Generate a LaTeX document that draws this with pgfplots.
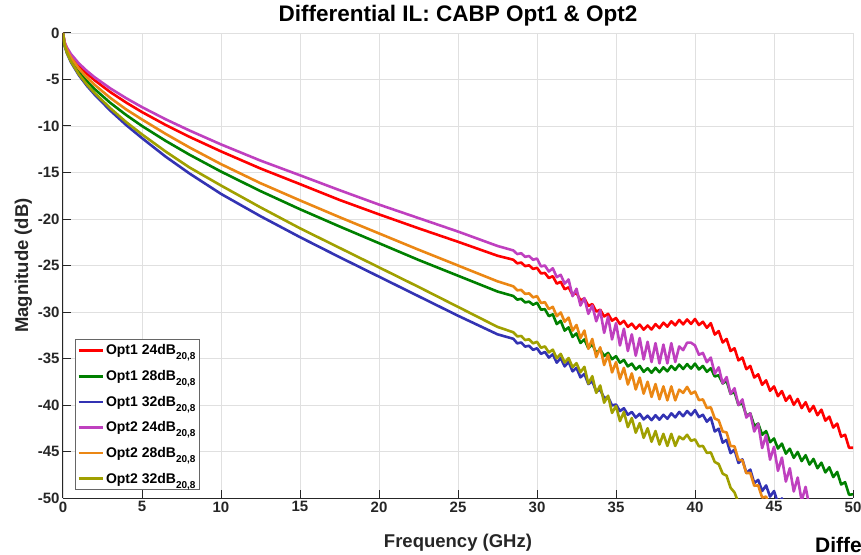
\documentclass[border=0pt]{standalone}
\usepackage{fontspec}
\setmainfont{Liberation Sans}
\usepackage{pgfplots}
\pgfplotsset{compat=1.18}
\definecolor{cRed}{RGB}{255,0,0}
\definecolor{cGreen}{RGB}{0,128,0}
\definecolor{cBlue}{RGB}{51,51,179}
\definecolor{cPurple}{RGB}{191,64,191}
\definecolor{cOrange}{RGB}{235,135,20}
\definecolor{cOlive}{RGB}{160,160,0}
\definecolor{axgray}{RGB}{38,38,38}
\newcommand{\sub}{\raisebox{-5pt}{\fontsize{10}{10}\selectfont 20,8}}
\begin{document}
\begin{tikzpicture}
\begin{axis}[
  at={(0,0)}, anchor=south west,
  scale only axis, width=790pt, height=465pt,
  xmin=0, xmax=50, ymin=-50, ymax=0,
  xtick={0,5,...,50}, ytick={-50,-45,...,0},
  xticklabels={0,5,10,15,20,25,30,35,40,45,50},
  yticklabels={-50,-45,-40,-35,-30,-25,-20,-15,-10,-5,0},
  axis lines*=left,
  axis line style={color=axgray, line width=1pt},
  tick style={color=axgray, line width=1pt},
  tick align=inside, major tick length=8pt,
  tick label style={font=\fontsize{15}{15}\selectfont\bfseries, text=axgray},
  grid=major, grid style={color=black!12, line width=0.8pt},
  title={Differential IL: CABP Opt1 \& Opt2},
  title style={font=\fontsize{22.5}{22.5}\selectfont\bfseries, at={(axis description cs:0.5,1.0237)}, anchor=base, yshift=-6pt},
  xlabel={Frequency (GHz)},
  xlabel style={font=\fontsize{18.5}{18.5}\selectfont\bfseries, text=axgray, at={(axis description cs:0.5,-0.1075)}, anchor=base},
  ylabel={Magnitude (dB)},
  ylabel style={font=\fontsize{18.5}{18.5}\selectfont\bfseries, text=axgray, at={(axis description cs:-0.0443,0.5)}, anchor=base},
  legend style={at={(0.0152,0.0172)}, anchor=south west, draw=black!60, line width=0.8pt, fill=white,
    font=\fontsize{14}{14}\selectfont\bfseries, row sep=10pt, inner xsep=2pt, inner ysep=3pt,
    cells={anchor=west}},
  legend image code/.code={\draw[#1, line width=2.6pt] (0pt,0pt) -- (24pt,0pt);},
  every axis plot/.append style={line width=2.6pt, line join=round},
]
% Opt1 24dB (red)
\addplot[cRed] coordinates {(0,0)(0.1,-1.05)(0.25,-1.69)(0.5,-2.42)(1,-3.49)(1.5,-4.35)(2,-5.08)(3,-6.36)(4,-7.48)(5,-8.5)(6.5,-9.89)(8,-11.16)(10,-12.73)(12.5,-14.57)(15,-16.25)(17.5,-17.95)(20,-19.5)(22.5,-21.0)(25,-22.45)(27.5,-23.95)
(28.5,-24.38)(28.75,-24.77)(29,-24.68)(29.25,-25.07)(29.5,-24.98)(29.75,-25.37)
(30,-25.25)(30.25,-25.85)(30.5,-25.8)(30.75,-26.35)(31,-26.15)(31.25,-26.95)(31.5,-26.75)(31.75,-27.55)(32,-27.35)(32.25,-28.15)(32.5,-27.95)(32.75,-28.75)(33,-28.55)(33.25,-29.35)(33.5,-29.15)(33.75,-29.95)
(34,-29.75)(34.25,-30.48)(34.5,-30.2)(34.75,-30.93)(35,-30.65)(35.25,-31.3)(35.5,-30.95)(35.75,-31.6)(36,-31.25)(36.25,-31.8)(36.5,-31.35)(36.75,-31.9)(37,-31.45)(37.25,-31.88)(37.5,-31.3)(37.75,-31.73)
(38,-31.15)(38.25,-31.58)(38.5,-31.0)(38.75,-31.43)(39,-30.85)(39.25,-31.33)(39.5,-30.8)(39.75,-31.28)(40,-30.75)(40.25,-31.4)(40.5,-31.05)(40.75,-31.7)
(41,-31.2)(41.25,-32.43)(41.5,-32.05)(41.75,-33.28)(42,-32.9)(42.25,-34.2)(42.5,-33.9)(42.75,-35.2)(43,-34.9)(43.25,-36.15)(43.5,-35.8)(43.75,-37.05)(44,-36.7)(44.25,-37.83)(44.5,-37.35)(44.75,-38.48)
(45,-38.0)(45.25,-39.05)(45.5,-38.5)(45.75,-39.55)(46,-39.0)(46.25,-39.98)(46.5,-39.35)(46.75,-40.33)(47,-39.7)(47.25,-40.7)(47.5,-40.1)(47.75,-41.1)(48,-40.5)(48.25,-41.68)(48.5,-41.25)(48.75,-42.43)
(49,-42.0)(49.25,-43.4)(49.5,-43.2)(49.75,-44.6)(50,-44.6)};
\addlegendentry{Opt1 24dB\sub}
% Opt1 28dB (green)
\addplot[cGreen] coordinates {(0,0)(0.1,-1.26)(0.25,-2.01)(0.5,-2.89)(1,-4.16)(1.5,-5.16)(2,-6.03)(3,-7.52)(4,-8.82)(5,-10.0)(6.5,-11.6)(8,-13.08)(10,-14.9)(12.5,-17.0)(15,-18.95)(17.5,-20.8)(20,-22.6)(22.5,-24.4)(25,-26.1)(27.5,-27.8)
(28.5,-28.28)(28.75,-28.67)(29,-28.58)(29.25,-28.97)(29.5,-28.88)(29.75,-29.22)
(30,-29.0)(30.25,-29.75)(30.5,-29.7)(30.75,-30.45)(31,-30.25)(31.25,-31.3)(31.5,-30.95)(31.75,-32.0)(32,-31.65)(32.25,-32.68)(32.5,-32.3)(32.75,-33.33)(33,-32.95)(33.25,-33.9)(33.5,-33.45)(33.75,-34.4)
(34,-34.05)(34.25,-34.73)(34.5,-34.4)(34.75,-35.08)(35,-34.75)(35.25,-35.45)(35.5,-35.15)(35.75,-35.85)(36,-35.55)(36.25,-36.18)(36.5,-35.8)(36.75,-36.43)(37,-36.05)(37.25,-36.53)(37.5,-36.0)(37.75,-36.48)
(38,-35.95)(38.25,-36.38)(38.5,-35.8)(38.75,-36.23)(39,-35.65)(39.25,-36.13)(39.5,-35.6)(39.75,-36.08)(40,-35.55)(40.25,-36.18)(40.5,-35.8)(40.75,-36.43)(41,-36.05)(41.25,-36.93)(41.5,-36.8)(41.75,-37.68)
(42,-37.4)(42.25,-38.8)(42.5,-38.6)(42.75,-40.0)(43,-39.8)(43.25,-41.15)(43.5,-40.9)(43.75,-42.25)(44,-42.0)(44.25,-43.2)(44.5,-42.8)(44.75,-44.0)(45,-43.6)(45.25,-44.68)(45.5,-44.15)(45.75,-45.23)
(46,-44.7)(46.25,-45.68)(46.5,-45.05)(46.75,-46.03)(47,-45.4)(47.25,-46.4)(47.5,-45.8)(47.75,-46.8)(48,-46.2)(48.25,-47.25)(48.5,-46.7)(48.75,-47.75)(49,-47.2)(49.25,-48.55)(49.5,-48.3)(49.75,-49.65)(50,-49.6)};
\addlegendentry{Opt1 28dB\sub}
% Opt1 32dB (blue)
\addplot[cBlue] coordinates {(0,0)(0.1,-1.36)(0.25,-2.18)(0.5,-3.13)(1,-4.53)(1.5,-5.65)(2,-6.62)(3,-8.35)(4,-9.9)(5,-11.3)(6.5,-13.3)(8,-15.1)(10,-17.3)(12.5,-19.7)(15,-21.95)(17.5,-24.1)(20,-26.2)(22.5,-28.3)(25,-30.4)(27.5,-32.4)
(28.5,-32.88)(28.75,-33.37)(29,-33.28)(29.25,-33.72)(29.5,-33.63)(29.75,-34.07)
(30,-33.9)(30.25,-34.5)(30.5,-34.3)(30.75,-34.9)(31,-34.55)(31.25,-35.45)(31.5,-34.95)(31.75,-35.85)(32,-35.35)(32.25,-36.38)(32.5,-36.0)(32.75,-37.03)(33,-36.65)(33.25,-37.75)(33.5,-37.45)(33.75,-38.55)
(34,-38.35)(34.25,-39.25)(34.5,-39.15)(34.75,-40.05)(35,-39.95)(35.25,-40.65)(35.5,-40.35)(35.75,-41.05)(36,-40.75)(36.25,-41.35)(36.5,-40.95)(36.75,-41.55)(37,-41.15)(37.25,-41.63)(37.5,-41.1)(37.75,-41.58)
(38,-41.05)(38.25,-41.48)(38.5,-40.9)(38.75,-41.33)(39,-40.75)(39.25,-41.2)(39.5,-40.65)(39.75,-41.1)(40,-40.55)(40.25,-41.3)(40.5,-41.05)(40.75,-41.8)
(41,-41.35)(41.25,-42.85)(41.5,-42.55)(41.75,-44.05)(42,-43.75)(42.25,-45.18)(42.5,-44.8)(42.75,-46.23)(43,-45.85)(43.25,-47.3)(43.5,-46.95)(43.75,-48.4)(44,-48.05)(44.25,-49.25)(44.5,-48.65)(44.75,-49.85)
(45,-49.25)(45.25,-50.55)(45.5,-50.05)(45.75,-51)};
\addlegendentry{Opt1 32dB\sub}
% Opt2 24dB (purple)
\addplot[cPurple] coordinates {(0,0)(0.1,-0.98)(0.25,-1.57)(0.5,-2.26)(1,-3.26)(1.5,-4.06)(2,-4.76)(3,-5.96)(4,-7.01)(5,-7.97)(6.5,-9.28)(8,-10.48)(10,-11.98)(12.5,-13.72)(15,-15.3)(17.5,-16.9)(20,-18.45)(22.5,-19.9)(25,-21.35)(27.5,-22.9)
(28.5,-23.38)(28.75,-23.77)(29,-23.68)(29.25,-24.07)(29.5,-23.98)(29.75,-24.39)
(30,-24.25)(30.25,-25.1)(30.5,-25.0)(30.75,-25.65)(31,-25.3)(31.25,-26.25)(31.5,-26.0)(31.75,-26.95)(32,-26.5)(32.25,-28.3)(32.5,-27.5)(32.75,-29.3)(33,-28.5)(33.25,-30.2)(33.5,-29.3)(33.75,-31.0)
(34,-29.8)(34.25,-32.25)(34.5,-30.5)(34.75,-32.95)(35,-31.2)(35.25,-33.6)(35.5,-31.8)(35.75,-34.2)(36,-32.4)(36.25,-34.7)(36.5,-32.8)(36.75,-35.1)(37,-33.2)(37.25,-35.38)(37.5,-33.35)(37.75,-35.53)
(38,-33.5)(38.25,-35.53)(38.5,-33.35)(38.75,-35.38)(39,-33.7)(39.25,-34.1)(39.5,-33.3)(39.75,-33.3)(40,-33.6)(40.25,-34.6)(40.5,-34.4)(40.75,-35.4)
(41,-34.9)(41.25,-36.63)(41.5,-35.95)(41.75,-37.68)(42,-37.0)(42.25,-38.8)(42.5,-38.2)(42.75,-40.0)(43,-39.4)(43.25,-41.35)(43.5,-40.9)(43.75,-42.85)
(44,-42.0)(44.25,-44.63)(44.5,-43.25)(44.75,-45.88)(45,-44.5)(45.25,-47.08)(45.5,-45.65)(45.75,-48.23)(46,-46.8)(46.25,-49.3)(46.5,-47.8)(46.75,-50.3)(47,-48.8)(47.25,-51)};
\addlegendentry{Opt2 24dB\sub}
% Opt2 28dB (orange)
\addplot[cOrange] coordinates {(0,0)(0.1,-1.15)(0.25,-1.84)(0.5,-2.64)(1,-3.82)(1.5,-4.76)(2,-5.57)(3,-6.99)(4,-8.22)(5,-9.3)(6.5,-10.85)(8,-12.3)(10,-14.1)(12.5,-16.15)(15,-18.0)(17.5,-19.8)(20,-21.55)(22.5,-23.3)(25,-25.0)(27.5,-26.7)
(28.5,-27.24)(28.75,-27.67)(29,-27.62)(29.25,-28.05)(29.5,-28.0)(29.75,-28.43)
(30,-28.3)(30.25,-29.03)(30.5,-28.95)(30.75,-29.68)(31,-29.45)(31.25,-30.45)(31.5,-30.05)(31.75,-31.05)(32,-30.6)(32.25,-32.0)(32.5,-31.4)(32.75,-32.8)
(33,-32.0)(33.25,-33.95)(33.5,-32.9)(33.75,-34.85)(34,-33.8)(34.25,-35.7)(34.5,-34.6)(34.75,-36.5)(35,-35.4)(35.25,-37.2)(35.5,-36.0)(35.75,-37.8)(36,-36.6)(36.25,-38.33)(36.5,-37.05)(36.75,-38.78)
(37,-37.5)(37.25,-39.13)(37.5,-37.75)(37.75,-39.38)(38,-38.0)(38.25,-39.5)(38.5,-38.0)(38.75,-39.5)(39,-38.35)(39.25,-38.7)(39.5,-38.05)(39.75,-38.8)(40,-38.55)(40.25,-39.48)(40.5,-39.4)(40.75,-40.33)
(41,-40.25)(41.25,-41.45)(41.5,-41.65)(41.75,-42.85)(42,-42.95)(42.25,-44.4)(42.5,-44.45)(42.75,-45.9)(43,-45.95)(43.25,-47.33)(43.5,-47.3)(43.75,-48.68)(44,-48.65)(44.25,-49.95)(44.5,-49.85)(44.75,-51)};
\addlegendentry{Opt2 28dB\sub}
% Opt2 32dB (olive)
\addplot[cOlive] coordinates {(0,0)(0.1,-1.33)(0.25,-2.13)(0.5,-3.06)(1,-4.43)(1.5,-5.52)(2,-6.45)(3,-8.1)(4,-9.58)(5,-10.9)(6.5,-12.75)(8,-14.45)(10,-16.4)(12.5,-18.75)(15,-21.0)(17.5,-23.1)(20,-25.2)(22.5,-27.3)(25,-29.45)(27.5,-31.6)
(28.5,-32.18)(28.75,-32.62)(29,-32.58)(29.25,-33.02)(29.5,-32.93)(29.75,-33.37)
(30,-33.2)(30.25,-33.85)(30.5,-33.7)(30.75,-34.35)(31,-34.05)(31.25,-34.98)(31.5,-34.5)(31.75,-35.43)(32,-34.95)(32.25,-35.93)(32.5,-35.5)(32.75,-36.48)
(33,-35.9)(33.25,-37.7)(33.5,-36.9)(33.75,-38.7)(34,-37.9)(34.25,-39.75)(34.5,-39.0)(34.75,-40.85)(35,-40.1)(35.25,-41.73)(35.5,-40.75)(35.75,-42.38)(36,-41.4)(36.25,-42.98)(36.5,-41.95)(36.75,-43.53)
(37,-42.5)(37.25,-43.95)(37.5,-42.8)(37.75,-44.25)(38,-43.1)(38.25,-44.4)(38.5,-43.1)(38.75,-44.4)(39,-43.4)(39.25,-43.7)(39.5,-43.2)(39.75,-43.85)(40,-43.7)(40.25,-44.45)(40.5,-44.4)(40.75,-45.15)
(41,-45.1)(41.25,-46.13)(41.5,-46.35)(41.75,-47.38)(42,-47.6)(42.25,-48.9)(42.5,-49.4)(42.75,-50.5)};
\addlegendentry{Opt2 32dB\sub}
\end{axis}
\node[anchor=base west, inner sep=0pt, font=\fontsize{21}{21}\selectfont\bfseries] at (752pt,-54pt) {Differential};
\pgfresetboundingbox
\useasboundingbox (-63pt,-56pt) rectangle (798pt,498pt);
\end{tikzpicture}
\end{document}
